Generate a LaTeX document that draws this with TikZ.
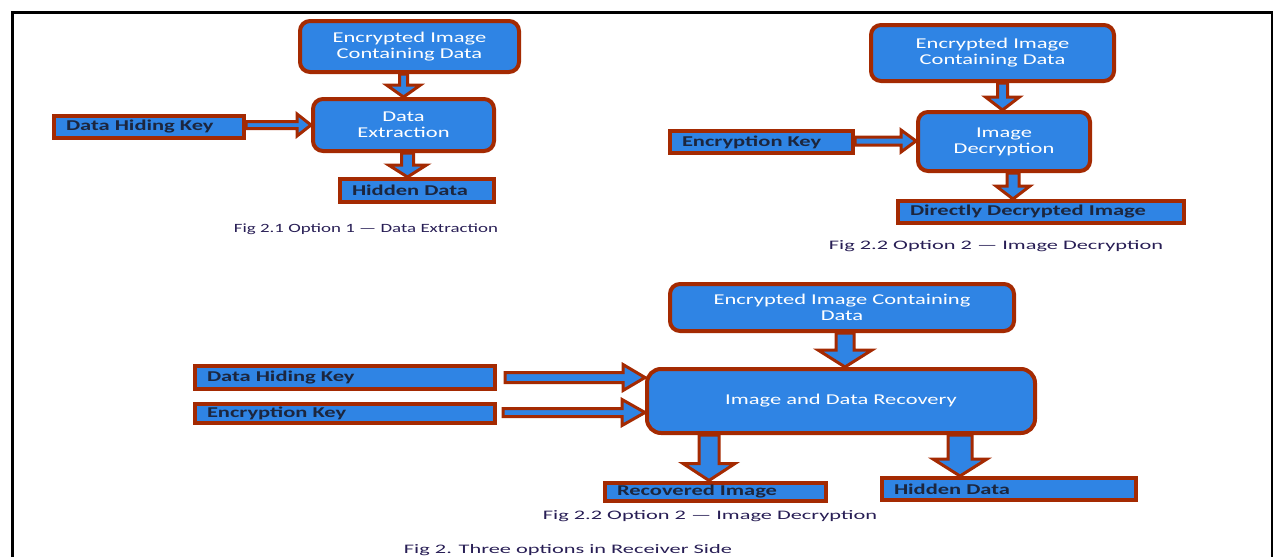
\documentclass[tikz,border=0pt]{standalone}
\usepackage{fontspec}
\setmainfont{Carlito}
\newfontfamily\boxfont{Carlito}[FakeStretch=1.5]
\newfontfamily\capfont{Carlito}[FakeStretch=1.72]
\usetikzlibrary{calc}
\definecolor{bfill}{RGB}{47,132,228}
\definecolor{bline}{RGB}{164,42,2}
\definecolor{rtext}{RGB}{28,38,62}
\definecolor{ctext}{RGB}{40,30,85}
\tikzset{
  rbox/.style={draw=bline, fill=bfill, line width=4pt, rounded corners=10pt, text=white,
    font=\boxfont\fontsize{15}{16}\selectfont, align=center, inner sep=0pt},
  kbox/.style={draw=bline, fill=bfill, line width=4pt, text=rtext,
    font=\boxfont\bfseries\fontsize{15}{16}\selectfont, align=left, inner xsep=12pt, inner ysep=0pt},
  figcap/.style={text=ctext, font=\boxfont\fontsize{12.6}{14}\selectfont, inner sep=0pt},
  figcapw/.style={text=ctext, font=\capfont\fontsize{13}{14}\selectfont, inner sep=0pt},
  blockarr/.style={draw=bline, fill=bfill, line width=3pt, line join=miter},
}
% #1 from, #2 to, #3 shaft half width, #4 head half width, #5 head length
\newcommand{\blockarrow}[5]{%
  \coordinate (ba-s) at (#1);
  \coordinate (ba-e) at (#2);
  \coordinate (ba-h) at ($(ba-e)!#5!(ba-s)$);
  \draw[blockarr] ($(ba-s)!#3!90:(ba-e)$) -- ($(ba-h)!#3!90:(ba-e)$) -- ($(ba-h)!#4!90:(ba-e)$)
    -- (ba-e) -- ($(ba-h)!#4!-90:(ba-e)$) -- ($(ba-h)!#3!-90:(ba-e)$) -- ($(ba-s)!#3!-90:(ba-e)$) -- cycle;
}
\begin{document}
\begin{tikzpicture}[x=1pt,y=-1pt]
\useasboundingbox (0,0) rectangle (1274,557);
% frame
\draw[line width=3pt] (12.5,557) -- (12.5,12.5) -- (1273,12.5);
\draw[line width=1.5pt] (1272,12.5) -- (1272,557);

% ---------- Fig 2.1 ----------
\node[rbox, minimum width=219pt, minimum height=51pt] (enc1) at (409.5,46.5) {Encrypted Image\\Containing Data};
\node[rbox, minimum width=181pt, minimum height=52pt] (de1) at (403.5,125) {Data\\Extraction};
\node[kbox, minimum width=190pt, minimum height=22pt, text width=166pt] (dhk1) at (149,127) {Data Hiding Key};
\node[kbox, minimum width=154pt, minimum height=23pt, text width=130pt] (hd1) at (417,190.5) {Hidden Data};
\node[figcap] (cap1) at (366,229) {Fig 2.1 Option 1 — Data Extraction};
\coordinate (a1s) at ($(enc1.south)+(-6,0)$);
\blockarrow{a1s}{a1s |- de1.north}{4pt}{17pt}{12pt}
\coordinate (a2s) at ($(dhk1.east)+(0,-2)$);
\blockarrow{a2s}{a2s -| de1.west}{3.5pt}{11pt}{14pt}
\coordinate (a3s) at ($(de1.south)+(4,0)$);
\blockarrow{a3s}{a3s |- hd1.north}{6pt}{19pt}{12pt}

% ---------- Fig 2.2 ----------
\node[rbox, minimum width=243pt, minimum height=56pt] (enc2) at (992.5,53) {Encrypted Image\\Containing Data};
\node[rbox, minimum width=172pt, minimum height=59pt] (id2) at (1004,141.5) {Image\\Decryption};
\node[kbox, minimum width=183pt, minimum height=22pt, text width=159pt] (ek2) at (761.5,142) {Encryption Key};
\node[kbox, minimum width=286pt, minimum height=22pt, text width=262pt] (ddi2) at (1041,212) {Directly Decrypted Image};
\node[figcapw] (cap2) at (996,246) {Fig 2.2 Option 2 — Image Decryption};
\coordinate (b1s) at ($(enc2.south)+(10,0)$);
\blockarrow{b1s}{b1s |- id2.north}{5pt}{17pt}{13pt}
\coordinate (b2s) at ($(ek2.east)+(0,-1)$);
\blockarrow{b2s}{b2s -| id2.west}{4pt}{11pt}{15pt}
\coordinate (b3s) at ($(id2.south)+(9,0)$);
\blockarrow{b3s}{b3s |- ddi2.north}{6pt}{17pt}{13pt}

% ---------- Fig 2.3 ----------
\node[rbox, minimum width=344pt, minimum height=47pt] (enc3) at (842,307.5) {Encrypted Image Containing\\Data};
\node[rbox, rounded corners=14pt, minimum width=388pt, minimum height=64pt] (idr) at (841,401) {Image and Data Recovery};
\node[kbox, minimum width=300pt, minimum height=23pt, text width=276pt] (dhk3) at (345,377.5) {Data Hiding Key};
\node[kbox, minimum width=300pt, minimum height=19pt, text width=276pt] (ek3) at (345,413.5) {Encryption Key};
\node[kbox, minimum width=221pt, minimum height=18pt, text width=197pt] (rec) at (715.5,491.5) {Recovered Image};
\node[kbox, minimum width=254pt, minimum height=22pt, text width=230pt] (hd3) at (1009,489) {Hidden Data};
\node[figcapw] (cap3) at (710,516) {Fig 2.2 Option 2 — Image Decryption};
\node[figcapw] (cap4) at (568,550) {Fig 2. Three options in Receiver Side};
\coordinate (c1s) at ($(enc3.south)+(3,0)$);
\blockarrow{c1s}{c1s |- idr.north}{9pt}{27pt}{17pt}
\coordinate (c2s) at ($(dhk3.east)+(8,0)$);
\blockarrow{c2s}{c2s -| idr.west}{5pt}{13pt}{22pt}
\coordinate (c3s) at ($(ek3.east)+(6,-1)$);
\blockarrow{c3s}{c3s -| idr.west}{4pt}{13pt}{23pt}
\coordinate (c4s) at ($(idr.south west)+(64,0)$);
\blockarrow{c4s}{c4s |- rec.north}{10pt}{26pt}{17pt}
\coordinate (c5s) at ($(idr.south west)+(315,0)$);
\blockarrow{c5s}{c5s |- hd3.north}{12pt}{27pt}{17pt}
\end{tikzpicture}
\end{document}
